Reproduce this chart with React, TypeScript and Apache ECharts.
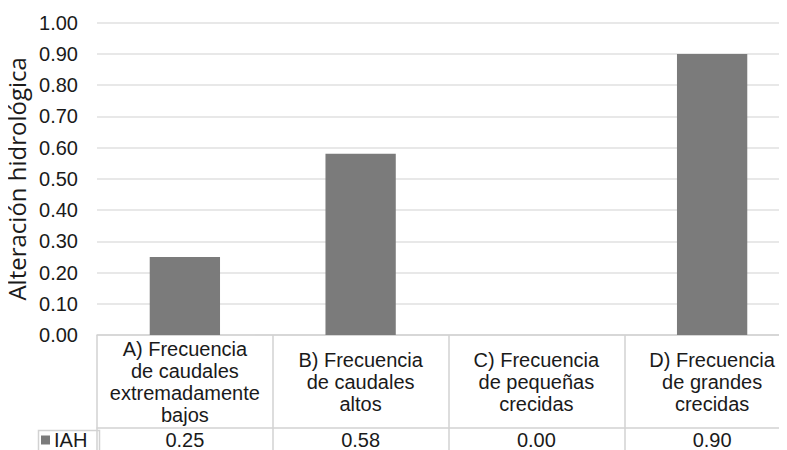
import React, { useEffect, useRef } from "react";
import * as echarts from "echarts";

// Índice de alteración hidrológica por componente del régimen de crecidas
const categories = [
  "A) Frecuencia\nde caudales\nextremadamente\nbajos",
  "B) Frecuencia\nde caudales\naltos",
  "C) Frecuencia\nde pequeñas\ncrecidas",
  "D) Frecuencia\nde grandes\ncrecidas",
];
const iahValues = [0.25, 0.58, 0.0, 0.9];
const seriesName = "IAH";
const yTitle = "Alteración hidrológica";

const FONT = "'Liberation Sans', Arial, sans-serif";
const TEXT = "#1a1a1a";
const GRID_LINE = "#e0e0e0";
const TABLE_LINE = "#d2d2d2";
const BAR = "#7b7b7b";

export default function App() {
  const ref = useRef<HTMLDivElement>(null);

  useEffect(() => {
    if (!ref.current) return;
    const chart = echarts.init(ref.current, null, { renderer: "svg" });

    const plotTop = 22.7;
    const plotBottom = 115; // 450 - 335
    const headerRow = 93; // height of the category row of the data table

    chart.setOption({
      animation: false,
      backgroundColor: "#ffffff",
      textStyle: { fontFamily: FONT },
      grid: {
        left: 97,
        right: -13,
        top: plotTop,
        bottom: plotBottom,
        containLabel: false,
        outerBoundsMode: "none",
      },
      legend: {
        data: [seriesName],
        left: 41,
        top: 430,
        padding: 0,
        icon: "rect",
        itemWidth: 9,
        itemHeight: 9,
        itemGap: 5,
        textStyle: { fontFamily: FONT, fontSize: 20, color: TEXT, padding: [0, 0, 0, -1] },
      },
      xAxis: [
        {
          type: "category",
          data: categories,
          position: "bottom",
          axisLine: { show: true, lineStyle: { color: TABLE_LINE, width: 1.5 } },
          axisTick: {
            show: true,
            inside: false,
            length: 120,
            lineStyle: { color: TABLE_LINE, width: 1.5 },
          },
          axisLabel: {
            interval: 0,
            margin: 46.5,
            verticalAlign: "middle",
            fontFamily: FONT,
            fontSize: 20,
            lineHeight: 22,
            color: TEXT,
            align: "center",
          },
          splitLine: { show: false },
        },
        {
          type: "category",
          data: iahValues.map((v) => v.toFixed(2)),
          position: "bottom",
          offset: headerRow,
          axisLine: { show: true, lineStyle: { color: TABLE_LINE, width: 1.5 } },
          axisTick: { show: false },
          axisLabel: {
            interval: 0,
            margin: 11.5,
            verticalAlign: "middle",
            fontFamily: FONT,
            fontSize: 20,
            color: TEXT,
          },
          splitLine: { show: false },
        },
      ],
      yAxis: {
        type: "value",
        min: 0,
        max: 1,
        interval: 0.1,
        name: yTitle,
        nameLocation: "middle",
        nameRotate: 90,
        nameGap: 67,
        nameTextStyle: {
          fontFamily: "'Open Sans', 'Noto Sans', sans-serif",
          fontSize: 24,
          color: TEXT,
        },
        axisLine: { show: false },
        axisTick: { show: false },
        axisLabel: {
          margin: 19,
          fontFamily: FONT,
          fontSize: 20,
          color: TEXT,
          formatter: (v: number) => v.toFixed(2),
        },
        splitLine: { show: true, lineStyle: { color: GRID_LINE, width: 1.5 } },
      },
      series: [
        {
          name: seriesName,
          type: "bar",
          xAxisIndex: 0,
          data: iahValues,
          barCategoryGap: "60%",
          itemStyle: { color: BAR },
        },
      ],
      graphic: [
        {
          type: "rect",
          left: 36,
          top: 428,
          shape: { width: 61, height: 40 },
          style: { fill: "none", stroke: TABLE_LINE, lineWidth: 1.5 },
          silent: true,
          z: 10,
        },
      ],
    });

    return () => chart.dispose();
  }, []);

  return <div ref={ref} style={{ width: 787, height: 450, marginLeft: -8, marginTop: -8 }} />;
}
